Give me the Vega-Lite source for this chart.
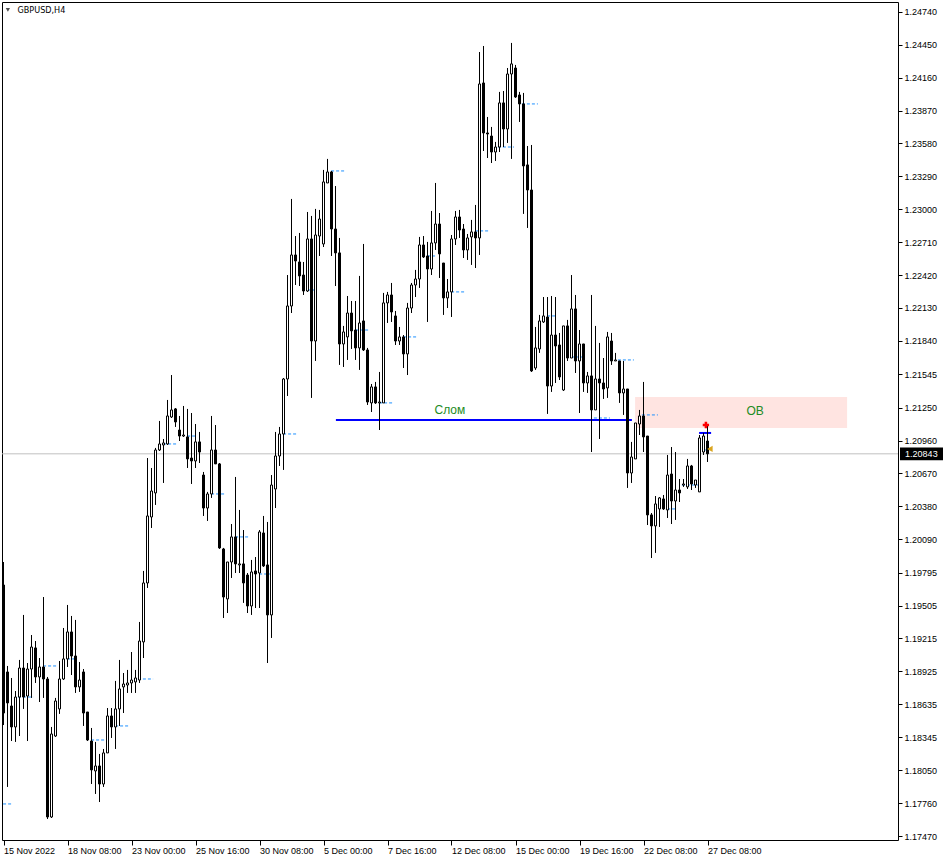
{
"$schema": "https://vega.github.io/schema/vega-lite/v6.json",
"width": 896, "height": 838,
"autosize": {"type": "none"},
"padding": {"left": 2, "top": 2, "right": 47, "bottom": 20},
"background": "#ffffff",
"config": {"view": {"stroke": "#000000", "strokeWidth": 1}, "font": "Liberation Sans"},
"datasets": {
"zones": [{"i0": 157.9, "i1": 210.9, "p0": 1.21344, "p1": 1.21071}],
"price": [{"p": 1.20843}],
"dashes": [
{"i0":-0.1,"i1":2.1,"p":1.17755},{"i0":3.6,"i1":7.4,"p":1.18698},{"i0":9.9,"i1":13.6,"p":1.18972},{"i0":15.9,"i1":17.9,"p":1.19034},
{"i0":21.9,"i1":25.6,"p":1.18319},{"i0":27.9,"i1":31.6,"p":1.18443},{"i0":33.6,"i1":37.4,"p":1.18857},{"i0":39.9,"i1":43.6,"p":1.20930},
{"i0":45.9,"i1":48.4,"p":1.21000},{"i0":51.9,"i1":55.6,"p":1.20489},{"i0":57.9,"i1":61.6,"p":1.20110},{"i0":63.9,"i1":67.6,"p":1.19783},
{"i0":69.9,"i1":73.6,"p":1.21018},{"i0":75.9,"i1":77.9,"p":1.22288},{"i0":81.9,"i1":85.6,"p":1.23338},{"i0":87.9,"i1":91.6,"p":1.21935},
{"i0":93.9,"i1":97.6,"p":1.21292},{"i0":99.9,"i1":103.6,"p":1.21874},{"i0":105.9,"i1":107.9,"p":1.22588},{"i0":111.9,"i1":115.6,"p":1.22271},
{"i0":117.9,"i1":121.6,"p":1.22809},{"i0":123.6,"i1":127.6,"p":1.23549},{"i0":129.6,"i1":133.6,"p":1.23929},{"i0":135.9,"i1":137.9,"p":1.22059},
{"i0":141.9,"i1":145.6,"p":1.21697},{"i0":147.6,"i1":151.6,"p":1.21159},{"i0":153.6,"i1":157.6,"p":1.21671},{"i0":159.6,"i1":163.6,"p":1.21186},
{"i0":165.9,"i1":167.9,"p":1.20357},{"i0":169.6,"i1":173.6,"p":1.20568},{"i0":174.9,"i1":175.9,"p":1.20877}
],
"lines": [{"i0": 83.1, "i1": 157.1, "p": 1.21142}, {"i0": 173.9, "i1": 176.9, "p": 1.21027}],
"notes": [{"i": 111.6, "p": 1.2123, "t": "Слом"}, {"i": 187.9, "p": 1.21221, "t": "OB"}],
"header": [{"i": 3.5, "p": 1.24758, "t": "GBPUSD,H4", "ti": 1.1}],
"signals": [{"i": 175.6, "p": 1.21097, "k": "up"}, {"i": 176.6, "p": 1.20886, "k": "down"}],
"candles": [
{"i":0,"o":1.19686,"h":1.19889,"l":1.18451,"c":1.18557},
{"i":1,"o":1.18919,"h":1.18972,"l":1.17905,"c":1.18646},
{"i":2,"o":1.18619,"h":1.18866,"l":1.18310,"c":1.18434},
{"i":3,"o":1.18434,"h":1.18751,"l":1.18302,"c":1.18698},
{"i":4,"o":1.18698,"h":1.19025,"l":1.18354,"c":1.18954},
{"i":5,"o":1.18954,"h":1.19422,"l":1.18593,"c":1.18698},
{"i":6,"o":1.18707,"h":1.18998,"l":1.18310,"c":1.18945},
{"i":7,"o":1.18945,"h":1.19245,"l":1.18690,"c":1.19139},
{"i":8,"o":1.19131,"h":1.19192,"l":1.18822,"c":1.18875},
{"i":9,"o":1.18875,"h":1.19042,"l":1.18654,"c":1.18963},
{"i":10,"o":1.18963,"h":1.19580,"l":1.18690,"c":1.18857},
{"i":11,"o":1.18857,"h":1.18875,"l":1.17622,"c":1.17640},
{"i":12,"o":1.17640,"h":1.18434,"l":1.17631,"c":1.18372},
{"i":13,"o":1.18354,"h":1.18690,"l":1.18346,"c":1.18663},
{"i":14,"o":1.18593,"h":1.19016,"l":1.18549,"c":1.18857},
{"i":15,"o":1.18857,"h":1.19307,"l":1.18848,"c":1.19034},
{"i":16,"o":1.19034,"h":1.19510,"l":1.18963,"c":1.19272},
{"i":17,"o":1.19272,"h":1.19413,"l":1.18892,"c":1.19060},
{"i":18,"o":1.19060,"h":1.19378,"l":1.18734,"c":1.18787},
{"i":19,"o":1.18787,"h":1.19007,"l":1.18743,"c":1.18848},
{"i":20,"o":1.18919,"h":1.18945,"l":1.18443,"c":1.18557},
{"i":21,"o":1.18566,"h":1.18566,"l":1.18310,"c":1.18319},
{"i":22,"o":1.18310,"h":1.18425,"l":1.17931,"c":1.18055},
{"i":23,"o":1.18046,"h":1.18302,"l":1.17843,"c":1.18090},
{"i":24,"o":1.18090,"h":1.18196,"l":1.17772,"c":1.17931},
{"i":25,"o":1.17931,"h":1.18240,"l":1.17905,"c":1.18205},
{"i":26,"o":1.18205,"h":1.18601,"l":1.18205,"c":1.18531},
{"i":27,"o":1.18531,"h":1.18601,"l":1.18337,"c":1.18434},
{"i":28,"o":1.18434,"h":1.18840,"l":1.18240,"c":1.18593},
{"i":29,"o":1.18593,"h":1.19025,"l":1.18443,"c":1.18769},
{"i":30,"o":1.18787,"h":1.18910,"l":1.18557,"c":1.18813},
{"i":31,"o":1.18804,"h":1.18937,"l":1.18734,"c":1.18822},
{"i":32,"o":1.18822,"h":1.19095,"l":1.18734,"c":1.18848},
{"i":33,"o":1.18831,"h":1.18937,"l":1.18734,"c":1.18866},
{"i":34,"o":1.18848,"h":1.19360,"l":1.18822,"c":1.19192},
{"i":35,"o":1.19184,"h":1.19810,"l":1.19042,"c":1.19704},
{"i":36,"o":1.19704,"h":1.20806,"l":1.19660,"c":1.20295},
{"i":37,"o":1.20286,"h":1.20718,"l":1.20189,"c":1.20515},
{"i":38,"o":1.20498,"h":1.20895,"l":1.20392,"c":1.20877},
{"i":39,"o":1.20877,"h":1.21133,"l":1.20868,"c":1.20930},
{"i":40,"o":1.20921,"h":1.20974,"l":1.20586,"c":1.20939},
{"i":41,"o":1.20930,"h":1.21318,"l":1.20921,"c":1.21177},
{"i":42,"o":1.21168,"h":1.21538,"l":1.21159,"c":1.21230},
{"i":43,"o":1.21239,"h":1.21247,"l":1.21080,"c":1.21124},
{"i":44,"o":1.21053,"h":1.21177,"l":1.20956,"c":1.21000},
{"i":45,"o":1.21000,"h":1.21265,"l":1.20992,"c":1.21009},
{"i":46,"o":1.20992,"h":1.21239,"l":1.20718,"c":1.20798},
{"i":47,"o":1.20806,"h":1.21203,"l":1.20577,"c":1.20780},
{"i":48,"o":1.20780,"h":1.21106,"l":1.20718,"c":1.20948},
{"i":49,"o":1.20948,"h":1.21036,"l":1.20762,"c":1.20859},
{"i":50,"o":1.20656,"h":1.20683,"l":1.20295,"c":1.20365},
{"i":51,"o":1.20365,"h":1.20507,"l":1.20251,"c":1.20489},
{"i":52,"o":1.20489,"h":1.21177,"l":1.20454,"c":1.20877},
{"i":53,"o":1.20877,"h":1.21097,"l":1.20754,"c":1.20754},
{"i":54,"o":1.20754,"h":1.20762,"l":1.20004,"c":1.20013},
{"i":55,"o":1.20004,"h":1.20013,"l":1.19395,"c":1.19580},
{"i":56,"o":1.19563,"h":1.19889,"l":1.19439,"c":1.19889},
{"i":57,"o":1.19889,"h":1.20224,"l":1.19748,"c":1.20110},
{"i":58,"o":1.20110,"h":1.20639,"l":1.19792,"c":1.19872},
{"i":59,"o":1.19863,"h":1.20348,"l":1.19792,"c":1.19872},
{"i":60,"o":1.19872,"h":1.20171,"l":1.19528,"c":1.19704},
{"i":61,"o":1.19774,"h":1.19792,"l":1.19439,"c":1.19501},
{"i":62,"o":1.19501,"h":1.19907,"l":1.19422,"c":1.19801},
{"i":63,"o":1.19810,"h":1.19933,"l":1.19483,"c":1.19783},
{"i":64,"o":1.19792,"h":1.20171,"l":1.19483,"c":1.20154},
{"i":65,"o":1.20145,"h":1.20295,"l":1.19845,"c":1.19854},
{"i":66,"o":1.19863,"h":1.20242,"l":1.18998,"c":1.19422},
{"i":67,"o":1.19422,"h":1.20656,"l":1.19219,"c":1.20568},
{"i":68,"o":1.20533,"h":1.21036,"l":1.20365,"c":1.20824},
{"i":69,"o":1.20824,"h":1.21080,"l":1.20736,"c":1.21018},
{"i":70,"o":1.21018,"h":1.21512,"l":1.20701,"c":1.21503},
{"i":71,"o":1.21503,"h":1.22420,"l":1.21353,"c":1.22147},
{"i":72,"o":1.22147,"h":1.23091,"l":1.22085,"c":1.22597},
{"i":73,"o":1.22597,"h":1.22764,"l":1.22332,"c":1.22544},
{"i":74,"o":1.22535,"h":1.22791,"l":1.22323,"c":1.22412},
{"i":75,"o":1.22420,"h":1.22535,"l":1.22244,"c":1.22279},
{"i":76,"o":1.22279,"h":1.22976,"l":1.22271,"c":1.22738},
{"i":77,"o":1.22738,"h":1.22941,"l":1.21336,"c":1.21838},
{"i":78,"o":1.21838,"h":1.23003,"l":1.21662,"c":1.22773},
{"i":79,"o":1.22764,"h":1.22994,"l":1.22588,"c":1.22914},
{"i":80,"o":1.22694,"h":1.23347,"l":1.22667,"c":1.23241},
{"i":81,"o":1.23232,"h":1.23444,"l":1.23232,"c":1.23329},
{"i":82,"o":1.23329,"h":1.23338,"l":1.22588,"c":1.22826},
{"i":83,"o":1.22826,"h":1.23205,"l":1.22323,"c":1.22615},
{"i":84,"o":1.22615,"h":1.22747,"l":1.21627,"c":1.21812},
{"i":85,"o":1.21812,"h":1.21971,"l":1.21609,"c":1.21918},
{"i":86,"o":1.21874,"h":1.22235,"l":1.21671,"c":1.22085},
{"i":87,"o":1.22085,"h":1.22191,"l":1.21768,"c":1.21927},
{"i":88,"o":1.21935,"h":1.22191,"l":1.21671,"c":1.21777},
{"i":89,"o":1.21777,"h":1.22412,"l":1.21583,"c":1.21997},
{"i":90,"o":1.22015,"h":1.22694,"l":1.21750,"c":1.21759},
{"i":91,"o":1.21759,"h":1.21777,"l":1.21274,"c":1.21300},
{"i":92,"o":1.21292,"h":1.21459,"l":1.21212,"c":1.21433},
{"i":93,"o":1.21433,"h":1.21477,"l":1.21283,"c":1.21292},
{"i":94,"o":1.21292,"h":1.21565,"l":1.21053,"c":1.21300},
{"i":95,"o":1.21292,"h":1.22262,"l":1.21292,"c":1.22174},
{"i":96,"o":1.22174,"h":1.22271,"l":1.21997,"c":1.22244},
{"i":97,"o":1.22244,"h":1.22350,"l":1.22006,"c":1.22094},
{"i":98,"o":1.22059,"h":1.22103,"l":1.21803,"c":1.21838},
{"i":99,"o":1.21838,"h":1.21962,"l":1.21803,"c":1.21874},
{"i":100,"o":1.21874,"h":1.21891,"l":1.21600,"c":1.21724},
{"i":101,"o":1.21724,"h":1.22174,"l":1.21538,"c":1.22129},
{"i":102,"o":1.22129,"h":1.22350,"l":1.22085,"c":1.22332},
{"i":103,"o":1.22332,"h":1.22465,"l":1.22226,"c":1.22385},
{"i":104,"o":1.22385,"h":1.22756,"l":1.22306,"c":1.22685},
{"i":105,"o":1.22685,"h":1.22764,"l":1.22570,"c":1.22579},
{"i":106,"o":1.22588,"h":1.22712,"l":1.22006,"c":1.22473},
{"i":107,"o":1.22473,"h":1.22985,"l":1.22420,"c":1.22703},
{"i":108,"o":1.22703,"h":1.23232,"l":1.22641,"c":1.22870},
{"i":109,"o":1.22870,"h":1.22967,"l":1.22394,"c":1.22606},
{"i":110,"o":1.22526,"h":1.22526,"l":1.22068,"c":1.22218},
{"i":111,"o":1.22218,"h":1.22385,"l":1.22129,"c":1.22271},
{"i":112,"o":1.22271,"h":1.22773,"l":1.22050,"c":1.22738},
{"i":113,"o":1.22738,"h":1.22985,"l":1.22685,"c":1.22932},
{"i":114,"o":1.22932,"h":1.22994,"l":1.22747,"c":1.22817},
{"i":115,"o":1.22826,"h":1.22870,"l":1.22570,"c":1.22641},
{"i":116,"o":1.22641,"h":1.22782,"l":1.22553,"c":1.22747},
{"i":117,"o":1.22756,"h":1.22906,"l":1.22509,"c":1.22800},
{"i":118,"o":1.22800,"h":1.23038,"l":1.22482,"c":1.22747},
{"i":119,"o":1.22747,"h":1.24387,"l":1.22597,"c":1.24105},
{"i":120,"o":1.24114,"h":1.24440,"l":1.23514,"c":1.23673},
{"i":121,"o":1.23673,"h":1.23814,"l":1.23452,"c":1.23664},
{"i":122,"o":1.23646,"h":1.23726,"l":1.23408,"c":1.23505},
{"i":123,"o":1.23505,"h":1.23594,"l":1.23426,"c":1.23549},
{"i":124,"o":1.23549,"h":1.24035,"l":1.23505,"c":1.23938},
{"i":125,"o":1.23938,"h":1.24043,"l":1.23549,"c":1.23708},
{"i":126,"o":1.23708,"h":1.24246,"l":1.23585,"c":1.24193},
{"i":127,"o":1.24193,"h":1.24467,"l":1.23444,"c":1.24282},
{"i":128,"o":1.24246,"h":1.24273,"l":1.23982,"c":1.23990},
{"i":129,"o":1.24008,"h":1.24035,"l":1.23770,"c":1.23929},
{"i":130,"o":1.23929,"h":1.24026,"l":1.22959,"c":1.23382},
{"i":131,"o":1.23391,"h":1.23558,"l":1.22835,"c":1.23170},
{"i":132,"o":1.23170,"h":1.23567,"l":1.21565,"c":1.21574},
{"i":133,"o":1.21600,"h":1.21962,"l":1.21583,"c":1.21777},
{"i":134,"o":1.21768,"h":1.22068,"l":1.21733,"c":1.22015},
{"i":135,"o":1.22006,"h":1.22226,"l":1.21997,"c":1.22059},
{"i":136,"o":1.22050,"h":1.22226,"l":1.21195,"c":1.21441},
{"i":137,"o":1.21441,"h":1.22235,"l":1.21389,"c":1.21891},
{"i":138,"o":1.21891,"h":1.22226,"l":1.21468,"c":1.21794},
{"i":139,"o":1.21803,"h":1.21909,"l":1.21494,"c":1.21521},
{"i":140,"o":1.21406,"h":1.21971,"l":1.21397,"c":1.21971},
{"i":141,"o":1.21971,"h":1.22024,"l":1.21662,"c":1.21688},
{"i":142,"o":1.21688,"h":1.22420,"l":1.21688,"c":1.22121},
{"i":143,"o":1.22121,"h":1.22244,"l":1.21556,"c":1.21662},
{"i":144,"o":1.21662,"h":1.21935,"l":1.21203,"c":1.21812},
{"i":145,"o":1.21812,"h":1.21812,"l":1.21389,"c":1.21468},
{"i":146,"o":1.21468,"h":1.21565,"l":1.21380,"c":1.21530},
{"i":147,"o":1.21530,"h":1.22244,"l":1.20859,"c":1.21230},
{"i":148,"o":1.21230,"h":1.21971,"l":1.21230,"c":1.21503},
{"i":149,"o":1.21503,"h":1.21821,"l":1.20974,"c":1.21468},
{"i":150,"o":1.21468,"h":1.21688,"l":1.21327,"c":1.21415},
{"i":151,"o":1.21424,"h":1.21918,"l":1.21336,"c":1.21874},
{"i":152,"o":1.21838,"h":1.21909,"l":1.21627,"c":1.21662},
{"i":153,"o":1.21662,"h":1.21733,"l":1.21662,"c":1.21671},
{"i":154,"o":1.21662,"h":1.21662,"l":1.21292,"c":1.21380},
{"i":155,"o":1.21380,"h":1.21662,"l":1.21186,"c":1.21415},
{"i":156,"o":1.21415,"h":1.21415,"l":1.20542,"c":1.20674},
{"i":157,"o":1.20674,"h":1.20948,"l":1.20586,"c":1.20815},
{"i":158,"o":1.20798,"h":1.21115,"l":1.20798,"c":1.21115},
{"i":159,"o":1.21106,"h":1.21230,"l":1.21009,"c":1.21177},
{"i":160,"o":1.21177,"h":1.21477,"l":1.20859,"c":1.20992},
{"i":161,"o":1.21000,"h":1.21000,"l":1.20215,"c":1.20304},
{"i":162,"o":1.20304,"h":1.20321,"l":1.19924,"c":1.20207},
{"i":163,"o":1.20207,"h":1.20471,"l":1.19969,"c":1.20401},
{"i":164,"o":1.20357,"h":1.20462,"l":1.20198,"c":1.20454},
{"i":165,"o":1.20445,"h":1.20480,"l":1.20348,"c":1.20357},
{"i":166,"o":1.20348,"h":1.20833,"l":1.20277,"c":1.20656},
{"i":167,"o":1.20665,"h":1.20903,"l":1.20224,"c":1.20427},
{"i":168,"o":1.20427,"h":1.20859,"l":1.20260,"c":1.20524},
{"i":169,"o":1.20524,"h":1.20621,"l":1.20418,"c":1.20498},
{"i":170,"o":1.20568,"h":1.20621,"l":1.20551,"c":1.20577},
{"i":171,"o":1.20551,"h":1.20798,"l":1.20533,"c":1.20736},
{"i":172,"o":1.20736,"h":1.20745,"l":1.20524,"c":1.20577},
{"i":173,"o":1.20568,"h":1.20612,"l":1.20542,"c":1.20612},
{"i":174,"o":1.20507,"h":1.21009,"l":1.20507,"c":1.20983},
{"i":175,"o":1.20859,"h":1.21027,"l":1.20833,"c":1.21000},
{"i":176,"o":1.20956,"h":1.21097,"l":1.20771,"c":1.20843}
]
},
"layer": [
{
"data": {"name": "zones"},
"mark": {"type": "rect", "color": "#FFE4E1"},
"encoding": {
"x": {"field": "i0", "type": "quantitative", "scale": {"domain": [-0.375, 223.625], "nice": false, "zero": false, "padding": 0},
"axis": {"orient": "bottom", "values": [0,16,32,48,64,80,96,112,128,144,160,176], "tickCount": 40,
"labelExpr": "['15 Nov 2022','18 Nov 08:00','23 Nov 00:00','25 Nov 16:00','30 Nov 08:00','5 Dec 00:00','7 Dec 16:00','12 Dec 08:00','15 Dec 00:00','19 Dec 16:00','22 Dec 08:00','27 Dec 08:00'][round(datum.value/16)]",
"labelAlign": "left", "labelDx": 1, "labelBaseline": "top", "labelPadding": 1, "tickSize": 5, "tickColor": "#000000",
"domain": false, "grid": false, "labelFont": "Liberation Sans", "labelFontSize": 9, "labelColor": "#000000",
"labelOverlap": false, "labelFlush": false, "title": null}},
"x2": {"field": "i1"},
"y": {"field": "p0", "type": "quantitative", "scale": {"domain": [1.17437, 1.24828], "nice": false, "zero": false, "padding": 0},
"axis": {"orient": "right", "values": [1.2474,1.2445,1.2416,1.2387,1.2358,1.2329,1.23,1.2271,1.2242,1.2213,1.2184,1.21545,1.2125,1.2096,1.2067,1.2038,1.2009,1.19795,1.19505,1.19215,1.18925,1.18635,1.18345,1.1805,1.1776,1.1747],
"tickCount": 60, "format": ".5f", "tickSize": 4, "tickColor": "#000000", "domain": false, "grid": false,
"labelFont": "Liberation Sans", "labelFontSize": 9, "labelPadding": 2, "labelColor": "#000000",
"labelOverlap": false, "labelFlush": false, "title": null}},
"y2": {"field": "p1"}
}
},
{
"data": {"name": "price"},
"mark": {"type": "rule", "color": "#C0C0C0", "strokeWidth": 1},
"encoding": {"y": {"field": "p", "type": "quantitative", "axis": {"title": null}}}
},
{
"data": {"name": "dashes"},
"mark": {"type": "rule", "color": "#1E90FF", "strokeWidth": 1, "strokeDash": [3, 2]},
"encoding": {
"x": {"field": "i0", "type": "quantitative", "axis": {"title": null}},
"x2": {"field": "i1"},
"y": {"field": "p", "type": "quantitative", "axis": {"title": null}}
}
},
{
"data": {"name": "lines"},
"mark": {"type": "rule", "color": "#0000FF", "strokeWidth": 2},
"encoding": {
"x": {"field": "i0", "type": "quantitative", "axis": {"title": null}},
"x2": {"field": "i1"},
"y": {"field": "p", "type": "quantitative", "axis": {"title": null}}
}
},
{
"data": {"name": "candles"},
"mark": {"type": "rule", "color": "#000000", "strokeWidth": 1},
"encoding": {
"x": {"field": "i", "type": "quantitative", "axis": {"title": null}},
"y": {"field": "l", "type": "quantitative", "axis": {"title": null}},
"y2": {"field": "h"}
}
},
{
"data": {"name": "candles"},
"mark": {"type": "bar", "width": 2, "stroke": "#000000", "strokeWidth": 1},
"encoding": {
"x": {"field": "i", "type": "quantitative", "axis": {"title": null}},
"y": {"field": "o", "type": "quantitative", "axis": {"title": null}},
"y2": {"field": "c"},
"fill": {"condition": {"test": "datum.c < datum.o", "value": "#000000"}, "value": "#ffffff"}
}
},
{
"data": {"name": "notes"},
"mark": {"type": "text", "color": "#228B22", "fontSize": 12, "font": "Liberation Sans", "align": "center", "baseline": "middle"},
"encoding": {
"x": {"field": "i", "type": "quantitative", "axis": {"title": null}},
"y": {"field": "p", "type": "quantitative", "axis": {"title": null}},
"text": {"field": "t"}
}
},
{
"data": {"name": "header"},
"mark": {"type": "text", "color": "#000000", "fontSize": 9, "font": "DejaVu Sans Condensed, Liberation Sans", "align": "left", "baseline": "middle"},
"encoding": {
"x": {"field": "i", "type": "quantitative", "axis": {"title": null}},
"y": {"field": "p", "type": "quantitative", "axis": {"title": null}},
"text": {"field": "t"}
}
},
{
"data": {"name": "header"},
"mark": {"type": "point", "shape": "triangle-down", "filled": true, "color": "#000000", "size": 18},
"encoding": {
"x": {"field": "ti", "type": "quantitative", "axis": {"title": null}},
"y": {"field": "p", "type": "quantitative", "axis": {"title": null}}
}
},
{
"data": {"name": "signals"},
"mark": {"type": "point", "filled": true, "size": 40, "opacity": 1},
"encoding": {
"x": {"field": "i", "type": "quantitative", "axis": {"title": null}},
"y": {"field": "p", "type": "quantitative", "axis": {"title": null}},
"shape": {"field": "k", "type": "nominal", "scale": {"domain": ["up", "down"], "range": ["cross", "triangle-left"]}, "legend": null},
"color": {"field": "k", "type": "nominal", "scale": {"domain": ["up", "down"], "range": ["#FF0000", "#DAA520"]}, "legend": null}
}
},
{
"data": {"name": "price"},
"mark": {"type": "rect", "color": "#000000"},
"encoding": {
"x": {"datum": 224.125, "type": "quantitative", "axis": {"title": null}},
"x2": {"datum": 234.875},
"y": {"datum": 1.20899, "type": "quantitative", "axis": {"title": null}},
"y2": {"datum": 1.20787}
}
},
{
"data": {"name": "price"},
"mark": {"type": "text", "color": "#FFFFFF", "fontSize": 9, "font": "Liberation Sans", "align": "left", "baseline": "middle"},
"encoding": {
"x": {"datum": 225.4, "type": "quantitative", "axis": {"title": null}},
"y": {"field": "p", "type": "quantitative", "axis": {"title": null}},
"text": {"field": "p", "type": "quantitative", "format": ".5f"}
}
}
]
}
